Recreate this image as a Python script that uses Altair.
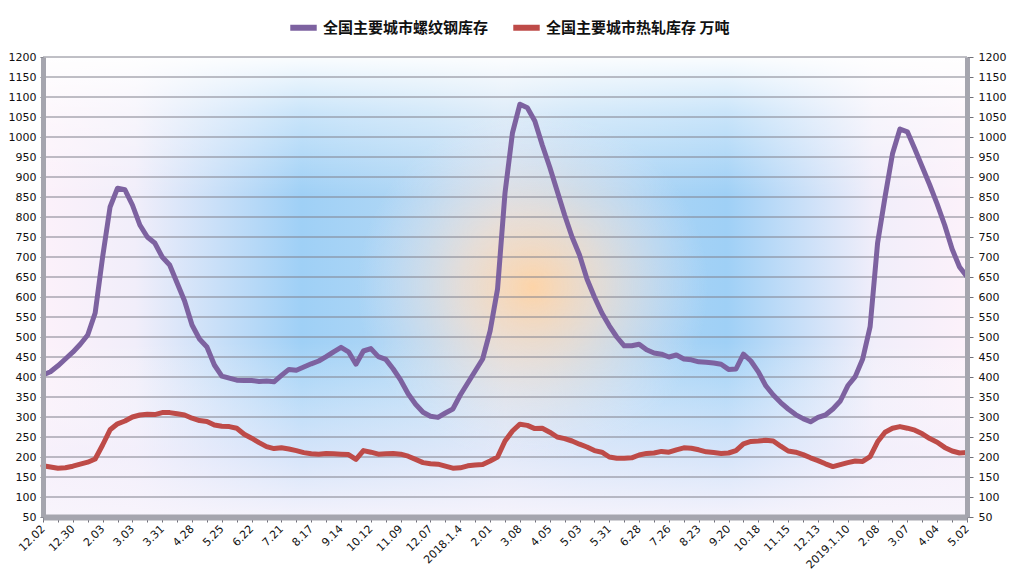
import altair as alt
import pandas as pd

# ---------------- data ----------------
x_labels = ["12.02", "12.30", "2.03", "3.03", "3.31", "4.28", "5.25", "6.22", "7.21",
            "8.17", "9.14", "10.12", "11.09", "12.07", "2018.1.4", "2.01", "3.08",
            "4.05", "5.03", "5.31", "6.28", "7.26", "8.23", "9.20", "10.18", "11.15",
            "12.13", "2019.1.10", "2.08", "3.07", "4.04", "5.02"]

rebar = [405, 413, 428, 445, 462, 482, 505, 560, 700, 825, 872, 868, 830, 780, 750, 735,
         700, 680, 635, 590, 530, 495, 475, 430, 402, 397, 392, 391, 391, 389, 390, 388,
         404, 419, 417, 425, 433, 440, 451, 463, 474, 463, 432, 465, 471, 451, 444, 420,
         392, 358, 332, 312, 302, 299, 310, 320, 355, 385, 415, 445, 515, 620, 860, 1010,
         1082, 1073, 1040, 980, 925, 865, 805, 750, 705, 645, 600, 560, 528, 500, 478, 478,
         482, 468, 460, 457, 450, 455, 445, 443, 438, 437, 435, 432, 419, 420, 457, 440,
         413, 378, 355, 336, 320, 306, 296, 288, 299, 305, 320, 340, 378, 401, 445, 526,
         735, 850, 958, 1020, 1013, 970, 925, 880, 832, 780, 720, 675, 651]

hot_rolled = [178, 175, 172, 173, 177, 182, 187, 195, 230, 268, 283, 290, 300, 305, 307, 306,
              311, 311, 308, 305, 297, 291, 289, 280, 277, 276, 272, 257, 247, 236, 226, 221,
              223, 220, 216, 211, 208, 207, 209, 208, 207, 206, 194, 216, 212, 207, 208, 209,
              207, 202, 194, 186, 183, 182, 177, 172, 173, 178, 180, 181, 190, 200, 240, 265,
              282, 279, 271, 272, 262, 250, 246, 240, 232, 225, 216, 212, 200, 197, 197, 198,
              205, 209, 210, 214, 212, 218, 223, 222, 218, 213, 211, 209, 210, 216, 233, 239,
              240, 242, 240, 227, 215, 212, 206, 198, 191, 183, 176, 181, 186, 190, 189, 201,
              238, 262, 272, 276, 272, 267, 258, 246, 237, 224, 215, 210, 211]

series_names = ["全国主要城市螺纹钢库存", "全国主要城市热轧库存 万吨"]
series_colors = ["#7D62A0", "#BE4B48"]
y_ticks = list(range(50, 1201, 50))

n = len(rebar)
df = pd.DataFrame({
    "week": list(range(n)) * 2,
    "value": rebar + hot_rolled,
    "series": [series_names[0]] * n + [series_names[1]] * n,
})
grid_df = pd.DataFrame({"tick": y_ticks})

W, H = 924, 460

x_scale = alt.Scale(domain=[0, n - 1], nice=False, zero=False)
y_scale = alt.Scale(domain=[50, 1200], nice=False, zero=False)

label_array = "[" + ",".join("'" + s + "'" for s in x_labels) + "]"
x_label_expr = "datum.value % 4 == 0 ? " + label_array + "[datum.value / 4] : ''"

axis_common = dict(labelFont="DejaVu Sans", labelFontSize=11, labelColor="#111111",
                   domainColor="#A5A5AE", tickColor="#6F6F78", zindex=1,
                   labelOverlap=False, title=None, grid=False)

# ---------------- background (plot-area gradients) ----------------
bg_data = alt.Data(values=[{"bg": 1}])


def bg_rect(fill):
    return alt.Chart(bg_data).mark_rect(fill=fill, strokeWidth=0).encode(
        x=alt.value(0), x2=alt.value("width"), y=alt.value(0), y2=alt.value("height"))


bg_h = bg_rect(alt.LinearGradient(
    gradient="linear", x1=0, y1=0, x2=1, y2=0,
    stops=[
        alt.GradientStop(offset=0.0, color="#FCF1FA"),
        alt.GradientStop(offset=0.10, color="#F1EEFA"),
        alt.GradientStop(offset=0.28, color="#9FD0F6"),
        alt.GradientStop(offset=0.42, color="#B3D8F5"),
        alt.GradientStop(offset=0.50, color="#C6DEF4"),
        alt.GradientStop(offset=0.58, color="#B3D8F5"),
        alt.GradientStop(offset=0.74, color="#9FD0F6"),
        alt.GradientStop(offset=0.90, color="#F1EEFA"),
        alt.GradientStop(offset=1.0, color="#FCF1FA"),
    ]))

bg_v = bg_rect(alt.LinearGradient(
    gradient="linear", x1=0, y1=0, x2=0, y2=1,
    stops=[
        alt.GradientStop(offset=0.0, color="rgba(255,255,255,0.95)"),
        alt.GradientStop(offset=0.12, color="rgba(255,255,255,0.45)"),
        alt.GradientStop(offset=0.30, color="rgba(255,255,255,0.0)"),
        alt.GradientStop(offset=0.62, color="rgba(255,255,255,0.0)"),
        alt.GradientStop(offset=0.85, color="rgba(244,240,252,0.6)"),
        alt.GradientStop(offset=1.0, color="rgba(248,244,252,0.95)"),
    ]))

bg_glow = bg_rect(alt.RadialGradient(
    gradient="radial", x1=0.53, y1=0.5, r1=0, x2=0.53, y2=0.5, r2=0.19,
    stops=[
        alt.GradientStop(offset=0.0, color="rgba(253,212,168,1)"),
        alt.GradientStop(offset=0.4, color="rgba(250,222,200,0.65)"),
        alt.GradientStop(offset=1.0, color="rgba(235,232,245,0)"),
    ]))

# ---------------- gridlines (also carries the right-hand axis) ----------------
grid = alt.Chart(grid_df).mark_rule(color="#80808C", strokeWidth=1).encode(
    y=alt.Y("tick:Q", scale=y_scale, axis=alt.Axis(
        orient="right", values=y_ticks, format="d", domainWidth=5, tickSize=6,
        labelPadding=5, **axis_common)),
    x=alt.value(0), x2=alt.value("width"))

# ---------------- lines ----------------
lines = alt.Chart(df).mark_line(strokeWidth=5, strokeJoin="round", strokeCap="round").encode(
    x=alt.X("week:Q", scale=x_scale, axis=alt.Axis(
        values=list(range(0, n, 2)), labelExpr=x_label_expr, labelAngle=-45,
        labelAlign="right", labelBaseline="middle", domainWidth=6, tickSize=5,
        labelPadding=5, **axis_common)),
    y=alt.Y("value:Q", scale=y_scale, axis=alt.Axis(
        orient="left", values=y_ticks, format="d", domainWidth=5, tickSize=3,
        labelPadding=4, **axis_common)),
    color=alt.Color("series:N", scale=alt.Scale(domain=series_names, range=series_colors),
                    legend=alt.Legend(
                        orient="none", legendX=244, legendY=-46, direction="horizontal",
                        title=None, symbolType="stroke", symbolStrokeWidth=6,
                        symbolSize=700, labelFont="Noto Sans CJK SC", labelFontSize=15,
                        labelFontWeight="bold", labelColor="#111111", columnPadding=12,
                        labelOffset=3, padding=0, labelLimit=400)),
)

chart = alt.layer(bg_h, bg_v, bg_glow, grid, lines).resolve_axis(
    y="independent"
).properties(
    width=W, height=H,
    padding={"left": 43, "top": 57, "right": 47, "bottom": 58},
    autosize=alt.AutoSizeParams(type="none"),
    background="white",
).configure_view(stroke=None)

chart.save("out.html", embed_options={"renderer": "svg", "actions": False})
